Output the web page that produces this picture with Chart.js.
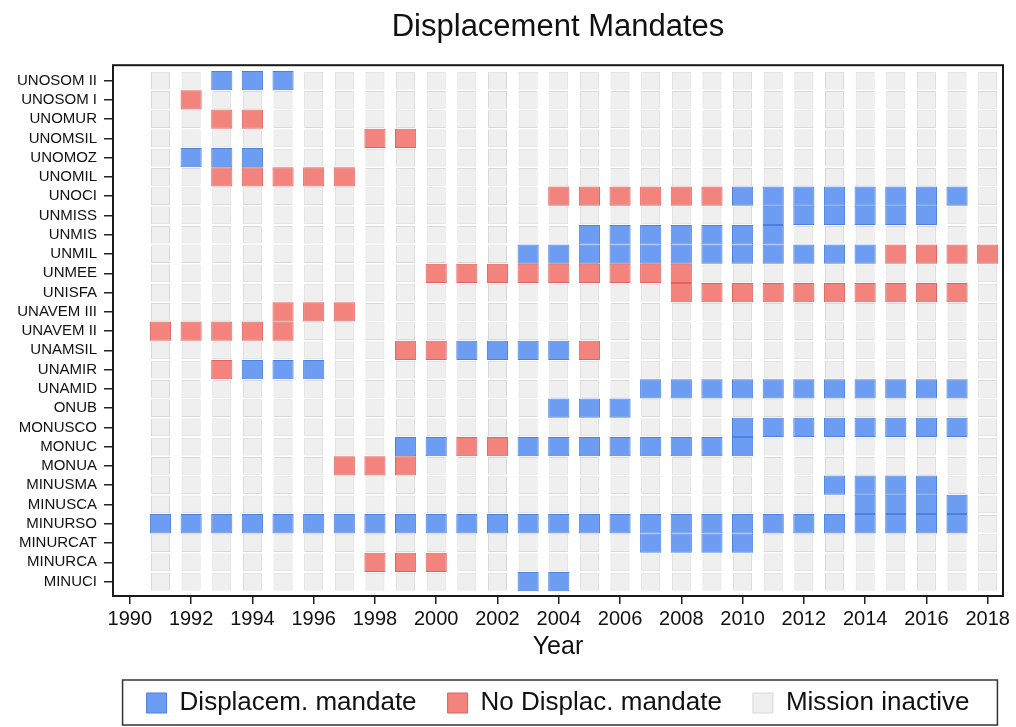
<!DOCTYPE html>
<html>
<head>
<meta charset="utf-8">
<script src="https://cdn.jsdelivr.net/npm/chart.js@4.4.1/dist/chart.umd.min.js"></script>
<style>
  html, body { margin: 0; padding: 0; background: #fff; }
</style>
</head>
<body>
<canvas id="chart" width="1016" height="727"></canvas>
<script>
const missions = ['UNOSOM II', 'UNOSOM I', 'UNOMUR', 'UNOMSIL', 'UNOMOZ', 'UNOMIL', 'UNOCI', 'UNMISS', 'UNMIS', 'UNMIL',
  'UNMEE', 'UNISFA', 'UNAVEM III', 'UNAVEM II', 'UNAMSIL', 'UNAMIR', 'UNAMID', 'ONUB', 'MONUSCO', 'MONUC',
  'MONUA', 'MINUSMA', 'MINUSCA', 'MINURSO', 'MINURCAT', 'MINURCA', 'MINUCI'];

const years = [1991, 1992, 1993, 1994, 1995, 1996, 1997, 1998, 1999, 2000, 2001, 2002, 2003, 2004,
  2005, 2006, 2007, 2008, 2009, 2010, 2011, 2012, 2013, 2014, 2015, 2016, 2017, 2018];

const yearTicks = [1990, 1992, 1994, 1996, 1998, 2000, 2002, 2004, 2006, 2008, 2010, 2012, 2014, 2016, 2018];

// years in which a mission had a displacement mandate
const displacemMandate = [
  ['UNOSOM II', [1993, 1994, 1995]],
  ['UNOMOZ', [1992, 1993, 1994]],
  ['UNOCI', [2010, 2011, 2012, 2013, 2014, 2015, 2016, 2017]],
  ['UNMISS', [2011, 2012, 2013, 2014, 2015, 2016]],
  ['UNMIS', [2005, 2006, 2007, 2008, 2009, 2010, 2011]],
  ['UNMIL', [2003, 2004, 2005, 2006, 2007, 2008, 2009, 2010, 2011, 2012, 2013, 2014]],
  ['UNAMSIL', [2001, 2002, 2003, 2004]],
  ['UNAMIR', [1994, 1995, 1996]],
  ['UNAMID', [2007, 2008, 2009, 2010, 2011, 2012, 2013, 2014, 2015, 2016, 2017]],
  ['ONUB', [2004, 2005, 2006]],
  ['MONUSCO', [2010, 2011, 2012, 2013, 2014, 2015, 2016, 2017]],
  ['MONUC', [1999, 2000, 2003, 2004, 2005, 2006, 2007, 2008, 2009, 2010]],
  ['MINUSMA', [2013, 2014, 2015, 2016]],
  ['MINUSCA', [2014, 2015, 2016, 2017]],
  ['MINURSO', [1991, 1992, 1993, 1994, 1995, 1996, 1997, 1998, 1999, 2000, 2001, 2002, 2003, 2004,
    2005, 2006, 2007, 2008, 2009, 2010, 2011, 2012, 2013, 2014, 2015, 2016, 2017]],
  ['MINURCAT', [2007, 2008, 2009, 2010]],
  ['MINUCI', [2003, 2004]],
];

// years in which a mission was active without one
const noDisplacMandate = [
  ['UNOSOM I', [1992]],
  ['UNOMUR', [1993, 1994]],
  ['UNOMSIL', [1998, 1999]],
  ['UNOMIL', [1993, 1994, 1995, 1996, 1997]],
  ['UNOCI', [2004, 2005, 2006, 2007, 2008, 2009]],
  ['UNMIL', [2015, 2016, 2017, 2018]],
  ['UNMEE', [2000, 2001, 2002, 2003, 2004, 2005, 2006, 2007, 2008]],
  ['UNISFA', [2008, 2009, 2010, 2011, 2012, 2013, 2014, 2015, 2016, 2017]],
  ['UNAVEM III', [1995, 1996, 1997]],
  ['UNAVEM II', [1991, 1992, 1993, 1994, 1995]],
  ['UNAMSIL', [1999, 2000, 2005]],
  ['UNAMIR', [1993]],
  ['MONUC', [2001, 2002]],
  ['MONUA', [1997, 1998, 1999]],
  ['MINURCA', [1998, 1999, 2000]],
];

const FONT = "'Liberation Sans', Arial, Helvetica, sans-serif";

function toCells(list, half) {
  const cells = [];
  list.forEach(([name, yrs]) => {
    const i = missions.indexOf(name);
    yrs.forEach((yr) => cells.push({ x: yr, y: [i - half, i + half] }));
  });
  return cells;
}

// every mission/year slot gets a grey cell underneath
const inactiveCells = toCells(missions.map((m) => [m, years]), 0.46);

const plotFrame = {
  id: 'plotFrame',
  afterDatasetsDraw(chart) {
    const { ctx, chartArea: a } = chart;
    ctx.save();
    ctx.strokeStyle = '#1a1a1a';
    ctx.lineWidth = 2;
    ctx.strokeRect(a.left, a.top, a.right - a.left, a.bottom - a.top);
    ctx.restore();
  }
};

const legendFrame = {
  id: 'legendFrame',
  afterDraw(chart) {
    const boxes = chart.legend && chart.legend.legendHitBoxes;
    if (!boxes || !boxes.length) return;
    const left = Math.min(...boxes.map((b) => b.left)) - 24;
    const right = Math.max(...boxes.map((b) => b.left + b.width)) + 28;
    const top = boxes[0].top - 10;
    const bottom = boxes[0].top + boxes[0].height + 9;
    const ctx = chart.ctx;
    ctx.save();
    ctx.strokeStyle = '#333';
    ctx.lineWidth = 1.5;
    ctx.strokeRect(left, top, right - left, bottom - top);
    ctx.restore();
  }
};

const ctx = document.getElementById('chart').getContext('2d');
new Chart(ctx, {
  type: 'bar',
  data: {
    datasets: [
      {
        label: 'Displacem. mandate',
        data: toCells(displacemMandate, 0.5),
        backgroundColor: '#6d9df2',
        borderColor: '#4b80de',
        borderWidth: 1,
        borderSkipped: false,
        grouped: false,
        categoryPercentage: 1,
        barPercentage: 0.69,
      },
      {
        label: 'No Displac. mandate',
        data: toCells(noDisplacMandate, 0.5),
        backgroundColor: '#f2837d',
        borderColor: '#e0625d',
        borderWidth: 1,
        borderSkipped: false,
        grouped: false,
        categoryPercentage: 1,
        barPercentage: 0.69,
      },
      {
        label: 'Mission inactive',
        data: inactiveCells,
        backgroundColor: '#efefef',
        borderColor: '#d8d8d8',
        borderWidth: 1,
        borderSkipped: false,
        grouped: false,
        categoryPercentage: 1,
        barPercentage: 0.62,
      },
    ],
  },
  options: {
    responsive: false,
    animation: false,
    devicePixelRatio: 1,
    layout: { padding: { left: 0, right: 13, top: 0, bottom: 1 } },
    plugins: {
      tooltip: { enabled: false },
      title: {
        display: true,
        text: 'Displacement Mandates',
        fullSize: false,
        color: '#111',
        font: { family: FONT, size: 31, weight: 'normal' },
        padding: { top: 9, bottom: 19 },
      },
      legend: {
        position: 'bottom',
        fullSize: false,
        labels: {
          color: '#111',
          font: { family: FONT, size: 26 },
          boxWidth: 20,
          boxHeight: 20,
          padding: 31,
        },
      },
    },
    scales: {
      x: {
        type: 'linear',
        offset: false,
        min: 1989.45,
        max: 2018.5,
        afterFit: (scale) => { scale.height = 63; },
        afterBuildTicks: (scale) => { scale.ticks = yearTicks.map((v) => ({ value: v })); },
        border: { display: false },
        grid: { offset: false, drawOnChartArea: false, drawTicks: true, tickLength: 8, color: '#222', lineWidth: 1.5 },
        ticks: {
          autoSkip: false,
          maxRotation: 0,
          padding: 3,
          color: '#111',
          font: { family: FONT, size: 20 },
          callback: (v) => String(v),
        },
        title: {
          display: true,
          text: 'Year',
          color: '#111',
          font: { family: FONT, size: 25 },
          padding: { top: 0, bottom: -3 },
        },
      },
      y: {
        type: 'linear',
        reverse: true,
        min: -0.8,
        max: 26.75,
        afterFit: (scale) => { scale.width = 113; },
        afterBuildTicks: (scale) => { scale.ticks = missions.map((m, i) => ({ value: i })); },
        border: { display: false },
        grid: { drawOnChartArea: false, drawTicks: true, tickLength: 9, color: '#222', lineWidth: 1.5 },
        ticks: {
          autoSkip: false,
          padding: 7,
          color: '#111',
          font: { family: FONT, size: 15 },
          callback: (v) => missions[v],
        },
      },
    },
  },
  plugins: [plotFrame, legendFrame],
});
</script>
</body>
</html>
